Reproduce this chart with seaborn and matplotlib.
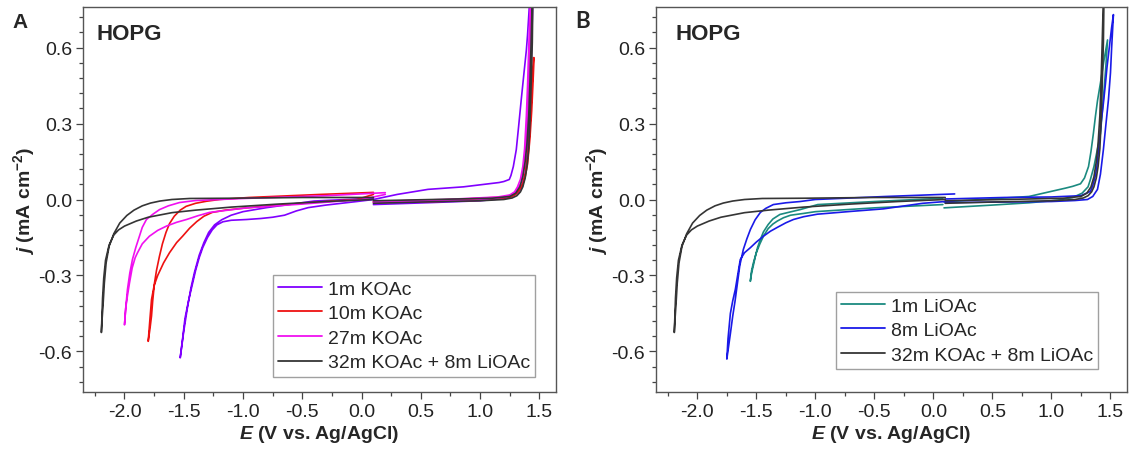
import seaborn as sns
import matplotlib.pyplot as plt
import pandas as pd
from matplotlib.lines import Line2D
from matplotlib.ticker import MultipleLocator, FormatStrFormatter

# -----------------------
# CV data (E in V vs Ag/AgCl, j in mA cm^-2)
# each electrolyte: cathodic loop + anodic loop
# -----------------------
# 1m KOAc
k1_cat_E = [0.10, -0.40, -0.80, -1.00, -1.10, -1.18, -1.24, -1.29, -1.33, -1.37, -1.41, -1.44,
            -1.47, -1.50, -1.53,
            -1.51, -1.49, -1.46, -1.43, -1.40, -1.37, -1.34, -1.30, -1.26, -1.22, -1.17, -1.10,
            -0.97, -0.85, -0.75, -0.65, -0.55, -0.45, -0.30, -0.04, 0.10]
k1_cat_j = [0.005, -0.006, -0.032, -0.048, -0.062, -0.080, -0.100, -0.130, -0.170, -0.220, -0.288,
            -0.350, -0.430, -0.520, -0.625,
            -0.550, -0.470, -0.400, -0.340, -0.280, -0.230, -0.190, -0.150, -0.120, -0.100, -0.088,
            -0.082, -0.079, -0.075, -0.070, -0.062, -0.045, -0.032, -0.022, -0.008, 0.0]
k1_ano_E = [0.10, 0.60, 1.00, 1.20, 1.27, 1.32, 1.356, 1.38, 1.40, 1.415, 1.43, 1.445,
            1.42, 1.40, 1.39, 1.37, 1.347, 1.325, 1.305, 1.28, 1.26, 1.246, 1.20, 1.16,
            0.86, 0.56, 0.30, 0.10]
k1_ano_j = [-0.020, -0.012, -0.005, 0.004, 0.012, 0.028, 0.050, 0.100, 0.197, 0.330, 0.530, 0.800,
            0.800, 0.650, 0.590, 0.500, 0.395, 0.290, 0.197, 0.130, 0.095, 0.079, 0.071, 0.067,
            0.050, 0.040, 0.020, 0.0]

# 10m KOAc
k10_cat_E = [0.10, -0.35, -0.95, -1.20, -1.31, -1.40, -1.48, -1.53, -1.58, -1.62, -1.65, -1.68,
             -1.705, -1.73, -1.747, -1.762, -1.772, -1.785, -1.80,
             -1.785, -1.772, -1.75, -1.72, -1.67, -1.62, -1.56, -1.51, -1.45, -1.39, -1.33,
             -1.26, -1.15, -0.97, -0.64, -0.30, -0.04, 0.10]
k10_cat_j = [0.028, 0.020, 0.008, 0.0, -0.007, -0.015, -0.027, -0.042, -0.066, -0.095, -0.130,
             -0.175, -0.224, -0.280, -0.330, -0.400, -0.460, -0.510, -0.560,
             -0.470, -0.395, -0.340, -0.300, -0.250, -0.210, -0.170, -0.145, -0.113, -0.087,
             -0.066, -0.051, -0.042, -0.033, -0.020, -0.008, 0.0, 0.020]
k10_ano_E = [0.10, 0.60, 1.00, 1.25, 1.30, 1.33, 1.36, 1.38, 1.40, 1.42, 1.435, 1.445, 1.455,
             1.45, 1.44, 1.428, 1.415, 1.40, 1.38, 1.355, 1.32, 1.28, 1.20, 0.80, 0.10]
k10_ano_j = [-0.012, -0.008, -0.003, 0.008, 0.020, 0.035, 0.060, 0.090, 0.140, 0.240, 0.350,
             0.450, 0.560,
             0.560, 0.470, 0.350, 0.250, 0.170, 0.100, 0.060, 0.035, 0.018, 0.010, 0.0, -0.008]

# 27m KOAc
k27_cat_E = [0.20, -0.30, -1.00, -1.40, -1.536, -1.63, -1.705, -1.76, -1.815, -1.85, -1.874,
             -1.905, -1.933, -1.955, -1.975, -1.988, -2.00,
             -1.99, -1.975, -1.958, -1.935, -1.91, -1.89, -1.85, -1.79, -1.72, -1.646, -1.56,
             -1.477, -1.38, -1.283, -0.97, -0.50, 0.0, 0.20]
k27_cat_j = [0.027, 0.015, 0.004, -0.004, -0.012, -0.025, -0.040, -0.058, -0.079, -0.110, -0.145,
             -0.190, -0.237, -0.290, -0.355, -0.420, -0.495,
             -0.430, -0.380, -0.330, -0.270, -0.230, -0.210, -0.175, -0.145, -0.122, -0.105,
             -0.090, -0.079, -0.064, -0.051, -0.033, -0.018, 0.0, 0.020]
k27_ano_E = [0.10, 0.60, 1.00, 1.22, 1.27, 1.30, 1.33, 1.35, 1.37, 1.385, 1.40, 1.41, 1.42, 1.435,
             1.425, 1.41, 1.40, 1.39, 1.375, 1.36, 1.34, 1.315, 1.29, 1.25, 1.15, 0.70, 0.10]
k27_ano_j = [-0.012, -0.008, -0.002, 0.010, 0.020, 0.030, 0.050, 0.070, 0.120, 0.200, 0.320,
             0.450, 0.600, 0.800,
             0.800, 0.600, 0.450, 0.330, 0.200, 0.130, 0.080, 0.050, 0.030, 0.018, 0.010, 0.0,
             -0.008]

# 32m KOAc + 8m LiOAc (same trace in both panels)
wis_cat_E = [0.10, -0.50, -1.10, -1.45, -1.60, -1.70, -1.78, -1.85, -1.92, -1.98, -2.04, -2.09,
             -2.13, -2.155, -2.17, -2.18, -2.19, -2.195,
             -2.19, -2.185, -2.175, -2.16, -2.13, -2.09, -2.05, -2.00, -1.90, -1.80, -1.60,
             -1.40, -1.10, -0.70, -0.30, 0.10]
wis_cat_j = [0.008, 0.008, 0.005, 0.004, 0.0, -0.006, -0.014, -0.025, -0.042, -0.063, -0.093,
             -0.135, -0.185, -0.250, -0.330, -0.410, -0.480, -0.525,
             -0.460, -0.390, -0.310, -0.240, -0.180, -0.140, -0.120, -0.105, -0.085, -0.070,
             -0.052, -0.042, -0.030, -0.018, -0.008, 0.0]
wis_ano_E = [0.10, 0.50, 1.00, 1.20, 1.27, 1.31, 1.34, 1.36, 1.38, 1.395, 1.41, 1.42, 1.43, 1.44,
             1.445,
             1.44, 1.43, 1.42, 1.41, 1.395, 1.38, 1.36, 1.335, 1.30, 1.25, 1.10, 0.60, 0.10]
wis_ano_j = [-0.015, -0.010, -0.005, 0.0, 0.006, 0.015, 0.030, 0.050, 0.085, 0.130, 0.200, 0.300,
             0.450, 0.620, 0.800,
             0.800, 0.620, 0.460, 0.330, 0.220, 0.150, 0.090, 0.050, 0.025, 0.012, 0.005, 0.0,
             -0.005]

# 1m LiOAc
l1_cat_E = [0.08, -0.50, -0.98, -1.13, -1.22, -1.30, -1.36, -1.40, -1.44, -1.466, -1.49, -1.508,
            -1.525, -1.54, -1.551,
            -1.54, -1.525, -1.50, -1.47, -1.44, -1.40, -1.36, -1.322, -1.27, -1.21, -1.10, -1.00,
            -0.50, 0.08]
l1_cat_j = [0.005, -0.008, -0.020, -0.040, -0.050, -0.059, -0.077, -0.099, -0.128, -0.158,
            -0.190, -0.224, -0.260, -0.290, -0.323,
            -0.280, -0.250, -0.210, -0.175, -0.145, -0.115, -0.097, -0.085, -0.072, -0.062,
            -0.055, -0.048, -0.033, -0.020]
l1_ano_E = [0.09, 0.50, 0.81, 1.05, 1.18, 1.26, 1.31, 1.33, 1.36, 1.39, 1.415, 1.44, 1.46, 1.475,
            1.445, 1.415, 1.39, 1.373, 1.355, 1.335, 1.314, 1.28, 1.246, 1.18, 1.12, 0.81, 0.40,
            0.09]
l1_ano_j = [-0.033, -0.022, -0.013, -0.003, 0.008, 0.025, 0.050, 0.079, 0.130, 0.200, 0.260,
            0.400, 0.520, 0.630,
            0.550, 0.460, 0.390, 0.330, 0.260, 0.190, 0.130, 0.085, 0.062, 0.052, 0.045, 0.012,
            0.0, -0.010]

# 8m LiOAc
l8_cat_E = [0.18, -0.40, -1.00, -1.13, -1.25, -1.356, -1.42, -1.466, -1.51, -1.55, -1.58, -1.61,
            -1.64, -1.66, -1.68, -1.70, -1.72, -1.735, -1.75,
            -1.74, -1.72, -1.70, -1.678, -1.655, -1.636, -1.60, -1.55, -1.50, -1.44, -1.38,
            -1.322, -1.25, -1.186, -1.10, -0.983, -0.70, -0.424, -0.09, 0.18]
l8_cat_j = [0.022, 0.012, 0.0, -0.008, -0.013, -0.020, -0.035, -0.051, -0.080, -0.118, -0.155,
            -0.197, -0.260, -0.330, -0.400, -0.460, -0.530, -0.580, -0.630,
            -0.550, -0.450, -0.400, -0.355, -0.290, -0.237, -0.210, -0.190, -0.168, -0.145,
            -0.125, -0.110, -0.092, -0.079, -0.068, -0.058, -0.047, -0.037, -0.015, -0.005]
l8_ano_E = [0.10, 0.60, 1.00, 1.20, 1.305, 1.35, 1.39, 1.415, 1.44, 1.46, 1.483, 1.50, 1.51,
            1.525,
            1.51, 1.49, 1.47, 1.458, 1.44, 1.42, 1.40, 1.385, 1.37, 1.35, 1.33, 1.25, 1.00,
            0.60, 0.10]
l8_ano_j = [-0.012, -0.010, -0.008, -0.004, 0.0, 0.012, 0.040, 0.100, 0.197, 0.290, 0.395, 0.500,
            0.600, 0.730,
            0.680, 0.600, 0.520, 0.460, 0.380, 0.300, 0.200, 0.130, 0.090, 0.055, 0.032, 0.015,
            0.010, 0.008, 0.002]

labels_A = ["1m KOAc", "10m KOAc", "27m KOAc", "32m KOAc + 8m LiOAc"]
labels_B = ["1m LiOAc", "8m LiOAc", "32m KOAc + 8m LiOAc"]
colors = {"1m KOAc": "#8000ff", "10m KOAc": "#ee1111", "27m KOAc": "#f010f0",
          "32m KOAc + 8m LiOAc": "#353535", "1m LiOAc": "#1b8a80", "8m LiOAc": "#1a1ae8"}

rows = []
def add(panel, label, seg, E, j):
    for e, v in zip(E, j):
        rows.append((panel, label, f"{label}|{seg}", e, v))

add("A", "1m KOAc", "cat", k1_cat_E, k1_cat_j)
add("A", "1m KOAc", "ano", k1_ano_E, k1_ano_j)
add("A", "10m KOAc", "cat", k10_cat_E, k10_cat_j)
add("A", "10m KOAc", "ano", k10_ano_E, k10_ano_j)
add("A", "27m KOAc", "cat", k27_cat_E, k27_cat_j)
add("A", "27m KOAc", "ano", k27_ano_E, k27_ano_j)
add("A", "32m KOAc + 8m LiOAc", "cat", wis_cat_E, wis_cat_j)
add("A", "32m KOAc + 8m LiOAc", "ano", wis_ano_E, wis_ano_j)
add("B", "1m LiOAc", "cat", l1_cat_E, l1_cat_j)
add("B", "1m LiOAc", "ano", l1_ano_E, l1_ano_j)
add("B", "8m LiOAc", "cat", l8_cat_E, l8_cat_j)
add("B", "8m LiOAc", "ano", l8_ano_E, l8_ano_j)
add("B", "32m KOAc + 8m LiOAc", "cat", wis_cat_E, wis_cat_j)
add("B", "32m KOAc + 8m LiOAc", "ano", wis_ano_E, wis_ano_j)

df = pd.DataFrame(rows, columns=["panel", "series", "seg", "E", "j"])

# -----------------------
# Style
# -----------------------
sns.set_style("ticks")
plt.rcParams["font.family"] = ["Liberation Sans", "DejaVu Sans"]
plt.rcParams["axes.unicode_minus"] = False
plt.rcParams["mathtext.fontset"] = "custom"
plt.rcParams["mathtext.it"] = "Liberation Sans:italic:bold"
plt.rcParams["mathtext.rm"] = "Liberation Sans:bold"
plt.rcParams["mathtext.bf"] = "Liberation Sans:bold"

W, H = 1130, 452
fig = plt.figure(figsize=(11.3, 4.52), dpi=100)
axA = fig.add_axes([83 / W, 1 - 393 / H, (556 - 83) / W, (393 - 8) / H])
axB = fig.add_axes([656 / W, 1 - 393 / H, (1127 - 656) / W, (393 - 8) / H])

for ax, panel, labels, leg_xy, hopg_x in [(axA, "A", labels_A, (273, 276), 97),
                                          (axB, "B", labels_B, (836, 293), 676)]:
    sub = df[df.panel == panel]
    sns.lineplot(data=sub, x="E", y="j", hue="series", hue_order=labels,
                 units="seg", estimator=None, sort=False, palette=colors,
                 legend=False, lw=1.2, ax=ax)
    ax.set_xlim(-2.35, 1.64)
    ax.set_ylim(-0.76, 0.76)
    ax.xaxis.set_major_locator(MultipleLocator(0.5))
    ax.xaxis.set_minor_locator(MultipleLocator(0.25))
    ax.yaxis.set_major_locator(MultipleLocator(0.3))
    ax.yaxis.set_minor_locator(MultipleLocator(0.06))
    ax.xaxis.set_major_formatter(FormatStrFormatter("%.1f"))
    ax.yaxis.set_major_formatter(FormatStrFormatter("%.1f"))
    ax.tick_params(which="major", length=5, width=0.9, labelsize=14,
                   color="#444444", labelcolor="#222222", pad=3)
    ax.tick_params(which="minor", length=3, width=0.9, color="#444444")
    for s in ax.spines.values():
        s.set_color("#555555")
        s.set_linewidth(1.0)
    ax.set_xlabel(r"$E$ (V vs. Ag/AgCl)", fontsize=14, fontweight="bold", labelpad=2)
    ax.set_ylabel(r"$j$ (mA cm$^{-2}$)", fontsize=14, fontweight="bold", labelpad=1)
    x0 = 83 if panel == "A" else 656
    ax.text((hopg_x - x0) / 473, 0.93, "HOPG", transform=ax.transAxes,
            fontsize=16, fontweight="bold", ha="left", va="center")
    handles = [Line2D([], [], color=colors[l], lw=1.3) for l in labels]
    leg = ax.legend(handles, labels, loc="upper left",
                    bbox_to_anchor=(leg_xy[0] / W, 1 - leg_xy[1] / H),
                    bbox_transform=fig.transFigure, borderaxespad=0,
                    fontsize=14, frameon=True, fancybox=False,
                    handlelength=2.25, handletextpad=0.3, labelspacing=0.36,
                    borderpad=0.26)
    leg.get_frame().set_edgecolor("#888888")
    leg.get_frame().set_linewidth(1.0)

fig.text(12 / W, 1 - 22 / H, "A", fontsize=15, fontweight="bold", va="center", ha="left")
fig.text(575 / W, 1 - 22 / H, "B", fontsize=16, fontweight="bold", va="center",
         ha="left", family=["Lato", "DejaVu Sans"])

plt.savefig("out.png", dpi=100)
plt.close()
